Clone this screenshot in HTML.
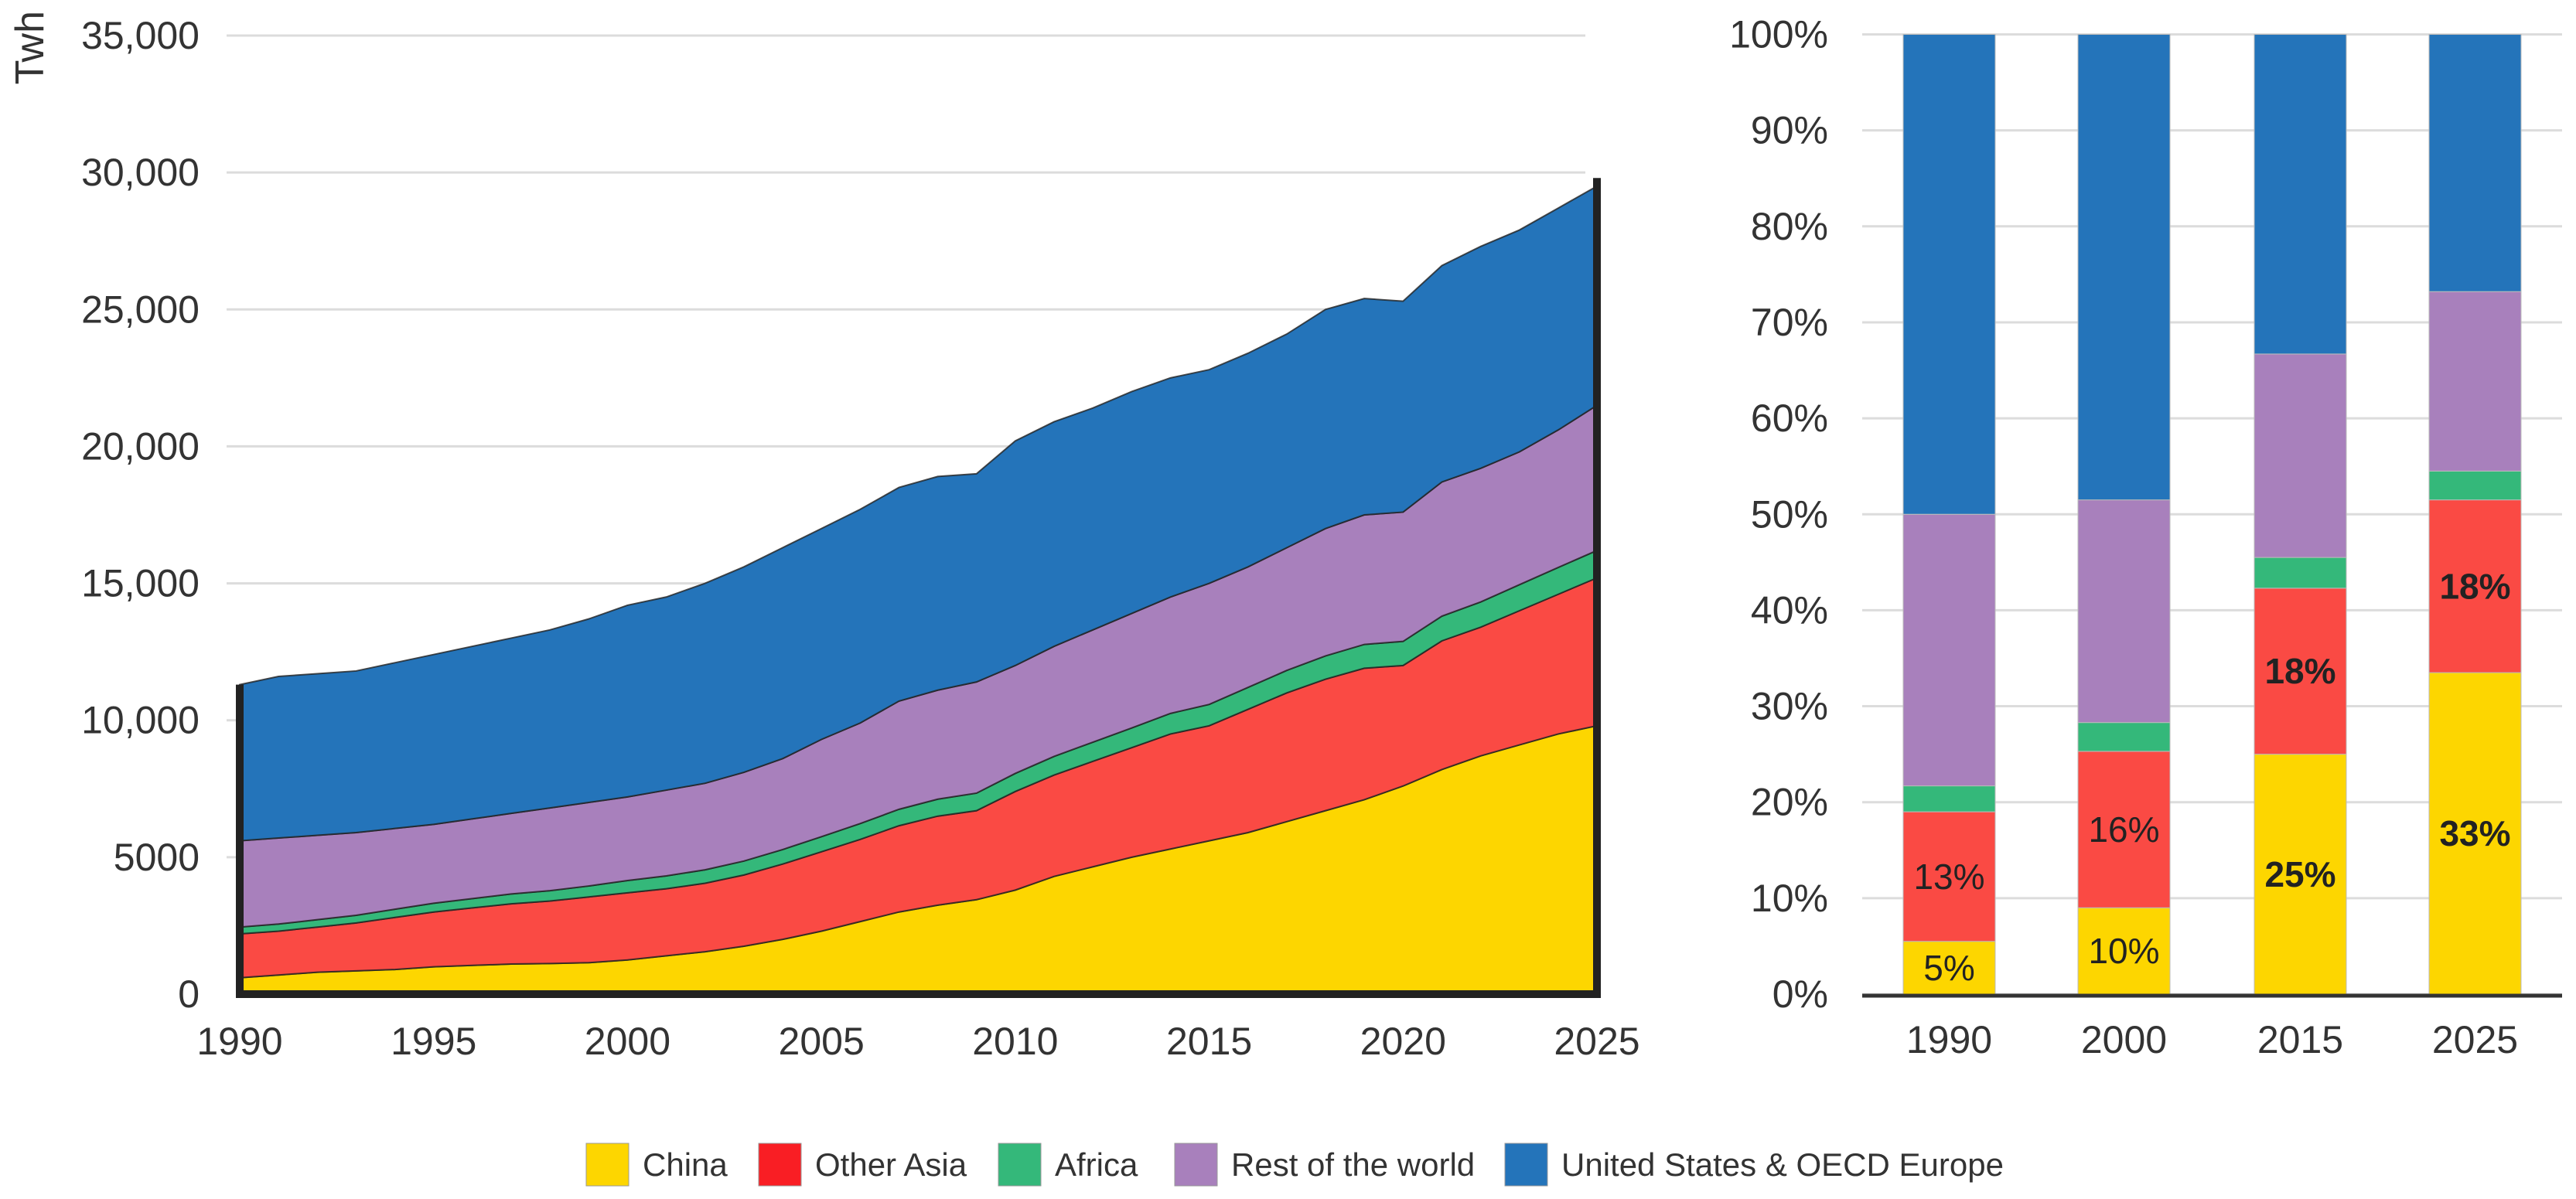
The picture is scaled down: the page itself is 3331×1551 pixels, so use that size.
<!DOCTYPE html>
<html><head><meta charset="utf-8"><style>
body{margin:0;background:#fff;}
svg{display:block;font-family:"Liberation Sans",sans-serif;}
</style></head><body>
<svg id="c" width="3331" height="1551" viewBox="0 0 3331 1551"></svg>
<script>
const years=[];for(let y=1990;y<=2025;y++)years.push(y);
const china=[600,700,800,850,900,1000,1050,1100,1120,1150,1250,1400,1550,1750,2000,2300,2650,3000,3250,3450,3800,4300,4650,5000,5300,5600,5900,6300,6700,7100,7600,8200,8700,9100,9500,9800];
const otherAsia=[1600,1600,1650,1750,1900,2000,2100,2200,2280,2400,2450,2450,2500,2600,2750,2900,3000,3150,3250,3250,3600,3700,3850,4000,4200,4200,4500,4700,4800,4800,4400,4700,4700,4900,5100,5400];
const africa=[250,260,270,280,300,320,340,360,380,400,450,470,490,510,530,550,580,600,620,640,660,680,700,720,750,780,800,820,850,870,880,900,920,950,980,1000];
const restWorld=[3150,3140,3080,3020,2950,2880,2910,2940,3020,3050,3050,3130,3160,3240,3320,3550,3670,3950,3980,4060,3940,4020,4100,4180,4250,4420,4400,4480,4650,4730,4720,4900,4880,4850,5020,5300];
const usOecd=[5700,5900,5900,5900,6050,6200,6300,6400,6500,6700,7000,7050,7300,7500,7700,7700,7800,7800,7800,7600,8200,8200,8100,8100,8000,7800,7800,7800,8000,7900,7700,7900,8100,8100,8100,8000];
const yTicks=[0,5000,10000,15000,20000,25000,30000,35000];
const yTickLabels=["0","5000","10,000","15,000","20,000","25,000","30,000","35,000"];
const xTicks=[1990,1995,2000,2005,2010,2015,2020,2025];
const barCats=["1990","2000","2015","2025"];
const barChina=[5.5,9,25,33.5];
const barOtherAsia=[13.5,16.3,17.3,18];
const barAfrica=[2.7,3,3.2,3];
const barRest=[28.3,23.2,21.2,18.7];
const barUS=[50,48.5,33.3,26.8];
const barLabelsChina=["5%","10%","25%","33%"];
const barLabelsOA=["13%","16%","18%","18%"];
const barBold=[false,false,true,true];
const pctTicks=[0,10,20,30,40,50,60,70,80,90,100];

const NS="http://www.w3.org/2000/svg";
const svg=document.getElementById('c');
function mk(t,a,p){const e=document.createElementNS(NS,t);for(const k in a)e.setAttribute(k,a[k]);(p||svg).appendChild(e);return e;}
const X=y=>310+(y-1990)*(1755/35);
const Y=v=>1286-v*(1240/35000);
const cols=["#FDD600","#FA4A44","#34B87A","#A880BC","#2474BA"];
const names=["china","other-asia","africa","rest-of-world","us-oecd-europe"];
yTicks.forEach((t,i)=>{
 if(t>0){const g=mk('line',{x1:293,x2:2050,y1:Y(t),y2:Y(t),stroke:'#dcdcdc','stroke-width':3});
 
 }
 const tx=mk('text',{x:258,y:Y(t)+17,'text-anchor':'end','font-size':50,fill:'#333'});tx.textContent=yTickLabels[i];
 
 
});
const yt=mk('text',{transform:'translate(56,14) rotate(-90)','text-anchor':'end','font-size':52,fill:'#333'});yt.textContent='Twh';


const series=[china,otherAsia,africa,restWorld,usOecd];
let base=years.map(()=>0);
series.forEach((s,k)=>{
 const top=base.map((b,i)=>b+s[i]);
 let d='M'+years.map((y,i)=>X(y)+','+Y(top[i])).join(' L');
 for(let i=years.length-1;i>=0;i--)d+=' L'+X(years[i])+','+Y(base[i]);
 const p=mk('path',{d:d+'Z',fill:cols[k],stroke:'#222','stroke-width':2,'stroke-opacity':0.8});
 
 
 base=top;
});
const n=years.length-1;
const fr=mk('path',{d:`M${X(1990)},${Y(base[0])} L${X(1990)},${Y(0)} L${X(2025)},${Y(0)} L${X(2025)},${Y(base[n]+300)}`,fill:'none',stroke:'#222','stroke-width':10});


xTicks.forEach(t=>{const tx=mk('text',{x:X(t),y:1364,'text-anchor':'middle','font-size':50,fill:'#333'});tx.textContent=t;
 
 });
// bar chart
const BY=p=>1286-p*12.415;
const bx=[2461,2687,2915,3141],bw=119;
pctTicks.forEach(t=>{
 const g=mk('line',{x1:2408,x2:3313,y1:BY(t),y2:BY(t),stroke:'#dcdcdc','stroke-width':3});
 
 
 const tx=mk('text',{x:2364,y:BY(t)+17,'text-anchor':'end','font-size':50,fill:'#333'});tx.textContent=t+'%';
 
 });
const bs=[barChina,barOtherAsia,barAfrica,barRest,barUS];
barCats.forEach((c,i)=>{
 let b=0;
 bs.forEach((s,k)=>{
  const r=mk('rect',{x:bx[i],y:BY(b+s[i]),width:bw,height:BY(b)-BY(b+s[i]),fill:cols[k],stroke:'#bbb','stroke-width':1});
  
  
  b+=s[i];
 });
 const fw=barBold[i]?'bold':'normal';
 const l1=mk('text',{x:bx[i]+bw/2,y:BY(barChina[i]/2)+16,'text-anchor':'middle','font-size':46,'font-weight':fw,fill:'#222'});l1.textContent=barLabelsChina[i];
 
 
 const l2=mk('text',{x:bx[i]+bw/2,y:BY(barChina[i]+barOtherAsia[i]/2)+16,'text-anchor':'middle','font-size':46,'font-weight':fw,fill:'#222'});l2.textContent=barLabelsOA[i];
 
 
 const xl=mk('text',{x:bx[i]+bw/2,y:1362,'text-anchor':'middle','font-size':50,fill:'#333'});xl.textContent=c;
 
 
});
const ax=mk('line',{x1:2408,x2:3313,y1:1288,y2:1288,stroke:'#333','stroke-width':5});


const legCols=["#FDD600","#F91E24","#34B87A","#A880BC","#2474BA"];
const legTxt=["China","Other Asia","Africa","Rest of the world","United States & OECD Europe"];
const legX=[758,981,1291,1519,1946];
legTxt.forEach((t,i)=>{
 const g=mk('g',{});
 
 
 mk('rect',{x:legX[i],y:1479,width:55,height:55,fill:legCols[i],stroke:'#999','stroke-width':1},g);
 const tx=mk('text',{x:legX[i]+73,y:1521,'font-size':42,fill:'#333'},g);tx.textContent=t;
});
</script>
</body></html>
